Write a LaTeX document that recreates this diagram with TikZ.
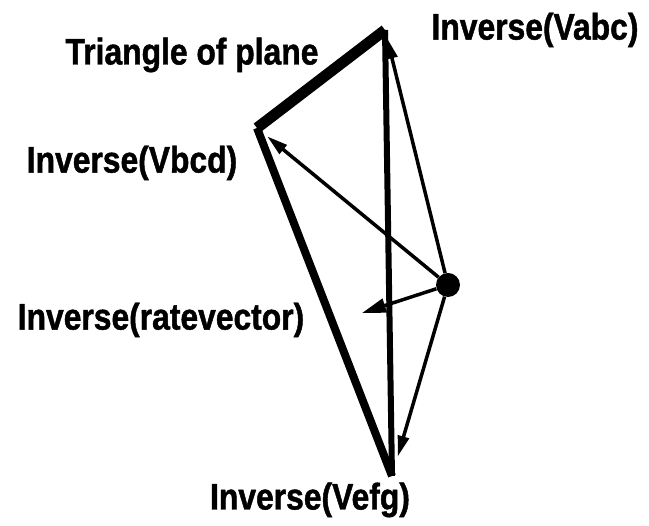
\documentclass[tikz,border=0pt]{standalone}
\usepackage{fontspec}
\setmainfont{Liberation Sans}
\newfontfamily\lblfont[FakeStretch=0.86, FakeBold=1.2]{Liberation Sans Bold}
\usetikzlibrary{arrows.meta, positioning}

\begin{document}
\begin{tikzpicture}[
  x=1pt, y=1pt,
  lbl/.style={font=\lblfont\fontsize{37}{37}\selectfont, inner sep=0pt},
  side/.style={line width=#1},
  vec/.style={-{Triangle[length=21pt, width=11pt]}, line width=3.5pt},
  dot/.style={circle, fill, inner sep=0pt, minimum size=24pt}
]
\useasboundingbox (0,0) rectangle (649,526);
\coordinate (abc) at (385,496);
\coordinate (bcd) at (257,398);
\coordinate (efg) at (392,50);
\coordinate (ratetip) at (362,213);
\node[dot] (point) at (448,241) {};

% triangle of plane
\draw[side=11pt] (abc) -- (bcd);
\draw[side=8pt] (bcd) -- (efg);
\draw[side=6pt] (abc) -- (efg);

% inverses from the point
\draw[vec, shorten >=8pt] (point) -- (abc);
\draw[vec, shorten >=13pt] (point) -- (bcd);
\draw[vec, shorten >=20pt] (point) -- (efg);
\draw[vec, -{Triangle[length=24pt, width=14pt]}] (point) -- (ratetip);

\node[lbl] (tri) at (192,471) {Triangle of plane};
\node[lbl] (labc) at (535,496) {Inverse(Vabc)};
\node[lbl] (lbcd) at (132,363) {Inverse(Vbcd)};
\node[lbl] (lrate) at (161,206) {Inverse(ratevector)};
\node[lbl] (lefg) at (310,26) {Inverse(Vefg)};
\end{tikzpicture}
\end{document}
